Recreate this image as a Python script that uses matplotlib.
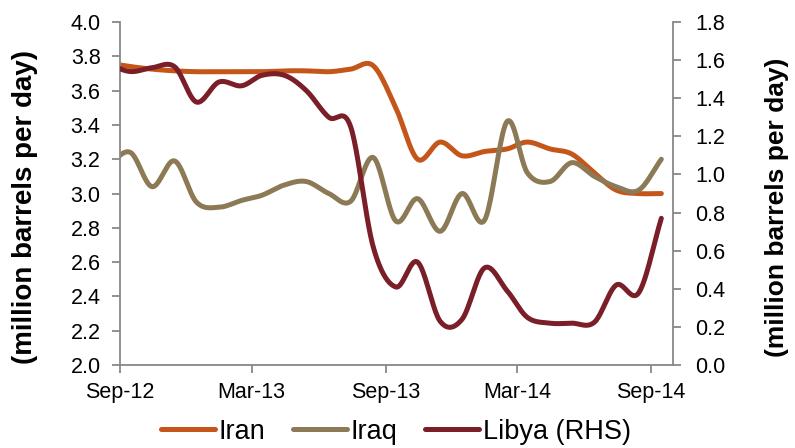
import numpy as np
import pandas as pd
import matplotlib
matplotlib.use("Agg")
import matplotlib.pyplot as plt
import matplotlib.dates as mdates
from matplotlib.lines import Line2D

plt.rcParams["font.family"] = ["Liberation Sans", "DejaVu Sans"]

# Monthly observations (mid-month), Aug-12 .. Sep-14
months = pd.date_range("2012-08-01", "2014-09-01", freq="MS") + pd.Timedelta(days=14)

iran = [3.76, 3.74, 3.725, 3.715, 3.71, 3.71, 3.71, 3.71, 3.715, 3.715, 3.71, 3.725,
        3.745, 3.50, 3.20, 3.30, 3.22, 3.245, 3.26, 3.30, 3.26, 3.23, 3.12, 3.02,
        3.00, 3.00]
iraq = [3.16, 3.24, 3.04, 3.19, 2.95, 2.92, 2.96, 2.99, 3.05, 3.07, 3.00, 2.955,
        3.21, 2.84, 2.97, 2.78, 3.00, 2.845, 3.42, 3.12, 3.07, 3.18, 3.10, 3.04,
        3.02, 3.20]
libya = [1.58, 1.54, 1.56, 1.565, 1.38, 1.485, 1.465, 1.52, 1.52, 1.44, 1.30, 1.25,
         0.62, 0.41, 0.54, 0.23, 0.24, 0.51, 0.39, 0.25, 0.22, 0.22, 0.225, 0.42,
         0.38, 0.77]

tick_dates = pd.to_datetime(["2012-09-01", "2013-03-01", "2013-09-01",
                             "2014-03-01", "2014-09-01"])
tick_labels = ["Sep-12", "Mar-13", "Sep-13", "Mar-14", "Sep-14"]
left_ticks = [2.0, 2.2, 2.4, 2.6, 2.8, 3.0, 3.2, 3.4, 3.6, 3.8, 4.0]
right_ticks = [0.0, 0.2, 0.4, 0.6, 0.8, 1.0, 1.2, 1.4, 1.6, 1.8]

C_IRAN = "#C5561A"
C_IRAQ = "#8C7A56"
C_LIBYA = "#7A1E28"
C_AXIS = "#888888"


def smooth(x, y, n=24):
    """Catmull-Rom spline through the points (like a smoothed line chart)."""
    x = np.asarray(x, float)
    y = np.asarray(y, float)
    px = np.concatenate([[2 * x[0] - x[1]], x, [2 * x[-1] - x[-2]]])
    py = np.concatenate([[2 * y[0] - y[1]], y, [2 * y[-1] - y[-2]]])
    t = np.linspace(0, 1, n, endpoint=False)
    xs, ys = [], []
    for i in range(1, len(px) - 2):
        for p, out in ((px, xs), (py, ys)):
            p0, p1, p2, p3 = p[i - 1], p[i], p[i + 1], p[i + 2]
            out.append(0.5 * (2 * p1 + (-p0 + p2) * t
                              + (2 * p0 - 5 * p1 + 4 * p2 - p3) * t ** 2
                              + (-p0 + 3 * p1 - 3 * p2 + p3) * t ** 3))
    xs.append([x[-1]])
    ys.append([y[-1]])
    return np.concatenate(xs), np.concatenate(ys)


xnum = mdates.date2num(months)

fig = plt.figure(figsize=(7.95, 4.48), dpi=100)
ax = fig.add_axes([0.151, 0.185, 0.6955, 0.766])
ax2 = ax.twinx()

lw = 3.6
sx, sy = smooth(xnum, iran)
ax.plot(sx, sy, color=C_IRAN, lw=lw, solid_capstyle="round")
sx, sy = smooth(xnum, iraq)
ax.plot(sx, sy, color=C_IRAQ, lw=lw, solid_capstyle="round")
sx, sy = smooth(xnum, libya)
ax2.plot(sx, sy, color=C_LIBYA, lw=lw, solid_capstyle="round")

xmin = mdates.date2num(pd.Timestamp("2012-09-01"))
xmax = mdates.date2num(pd.Timestamp("2014-10-01"))
ax.set_xlim(xmin, xmax)
ax.set_ylim(2.0, 4.0)
ax2.set_ylim(0.0, 1.8)

ax.set_xticks(mdates.date2num(tick_dates))
ax.set_xticklabels(tick_labels)
ax.set_yticks(left_ticks)
ax.set_yticklabels([f"{v:.1f}" for v in left_ticks])
ax2.set_yticks(right_ticks)
ax2.set_yticklabels([f"{v:.1f}" for v in right_ticks])

for a in (ax, ax2):
    for s in a.spines.values():
        s.set_color(C_AXIS)
        s.set_linewidth(1.3)
    a.spines["top"].set_visible(False)
    a.tick_params(axis="both", colors=C_AXIS, labelcolor="black",
                  length=6, width=1.3, direction="out")
ax.spines["right"].set_visible(False)
ax2.spines["left"].set_visible(False)
ax2.spines["bottom"].set_visible(False)
ax.tick_params(axis="x", pad=6, labelsize=15.5)
ax.tick_params(axis="y", pad=8, labelsize=15.5)
ax2.tick_params(axis="y", pad=10, labelsize=15.5)

ax.set_ylabel("(million barrels per day)", fontsize=20, fontweight="bold")
ax.yaxis.set_label_coords(-0.148, 0.46)
ax2.set_ylabel("(million barrels per day)", fontsize=19, fontweight="bold")
ax2.yaxis.set_label_coords(1.166, 0.46)

handles = [Line2D([], [], color=C_IRAN, lw=lw, solid_capstyle="round"),
           Line2D([], [], color=C_IRAQ, lw=lw, solid_capstyle="round"),
           Line2D([], [], color=C_LIBYA, lw=lw, solid_capstyle="round")]
fig.legend(handles, ["Iran", "Iraq", "Libya (RHS)"], loc="center",
           bbox_to_anchor=(0.498, 0.036), ncol=3, frameon=False,
           fontsize=19.5, handlelength=2.0, handletextpad=0.15,
           columnspacing=1.0, borderpad=0.0)

fig.savefig("out.png", dpi=100)
